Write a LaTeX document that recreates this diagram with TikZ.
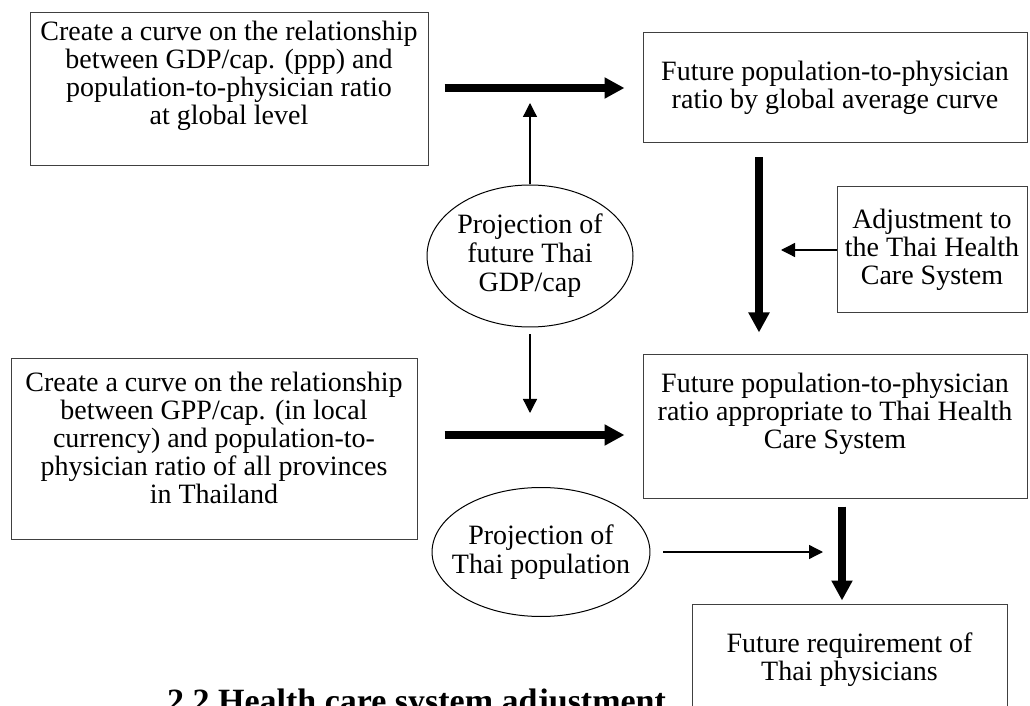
\documentclass[tikz,border=0pt]{standalone}
\usepackage{fontspec}
\setmainfont{Liberation Serif}
\usepackage{tikz}
\usetikzlibrary{shapes.geometric, arrows.meta, positioning}
\newcommand{\pushup}[1]{\rule[-#1]{0pt}{0pt}}
\tikzstyle{box} = [
    rectangle,
    draw=black!75,
    line width=0.5pt,
    fill=white,
    inner xsep=2pt,
    inner ysep=1pt,
    align=center,
    font=\fontsize{14pt}{14pt}\selectfont
]
\tikzstyle{oval} = [
    ellipse,
    draw=black,
    line width=0.5pt,
    inner xsep=-6pt,
    inner ysep=0pt,
    align=center,
    font=\fontsize{14pt}{14.5pt}\selectfont
]
\tikzstyle{bigarrow} = [
    line width=4.25pt,
    -{Triangle[length=10pt, width=10pt]}
]
\tikzstyle{arrow} = [
    line width=0.65pt,
    -{Triangle[length=7pt, width=7pt]}
]

\begin{document}
\begin{tikzpicture}[
    x=0.5pt,
    y=-0.5pt
]

\useasboundingbox (0,0) rectangle (1030,706);
\clip (0,0) rectangle (1030,706);

\node (head) [anchor=base west, font=\bfseries\fontsize{17pt}{20pt}\selectfont] at (160,712)
{2.2 Health care system adjustment};

\node (glob) [box, minimum width=199pt, minimum height=76.5pt] at (229,89.5)
{Create a curve on the relationship\\ between GDP/cap. (ppp) and\\ population-to-physician ratio\\ at global level\pushup{17pt}};

\node (fut1) [box, minimum width=192pt, minimum height=55pt] at (835,88)
{Future population-to-physician\\ ratio by global average curve};

\node (adj) [box, minimum width=95pt, minimum height=63pt] at (932,250)
{Adjustment to\\ the Thai Health\\ Care System};

\node (gdp) [oval, minimum width=103pt, minimum height=71pt] at (530,256)
{Projection of\\ future Thai\\ GDP/cap};

\node (prov) [box, minimum width=203pt, minimum height=90pt] at (214,449)
{Create a curve on the relationship\\ between GPP/cap. (in local\\ currency) and population-to-\\ physician ratio of all provinces\\ in Thailand\pushup{11pt}};

\node (futthai) [box, minimum width=192pt, minimum height=71.5pt] at (835,426.5)
{Future population-to-physician\\ ratio appropriate to Thai Health\\ Care System\pushup{16pt}};

\node (pop) [oval, minimum width=107pt, minimum height=64.5pt] at (541,552)
{Projection of\\ Thai population};

\node (req) [box, minimum width=157.5pt, minimum height=56pt] at (849.5,660)
{Future requirement of\\ Thai physicians};

\coordinate (drop) at ([xshift=-38pt]fut1.south);
\coordinate (feed) at ([yshift=7pt]prov.east);
\coordinate (sink) at ([xshift=3.5pt]futthai.south);

\draw [bigarrow, shorten <=8pt, shorten >=9pt]
(glob.east |- fut1.west) -- (fut1.west);

\draw [arrow, shorten >=7.5pt]
(gdp.north) -- (gdp.north |- fut1.west);

\draw [bigarrow, shorten <=7pt, shorten >=11pt]
(drop) -- (drop |- futthai.north);

\draw [arrow, shorten >=11pt]
(adj.west) -- (adj.west -| drop);

\draw [arrow, shorten <=3.5pt, shorten >=11pt]
(gdp.south) -- (gdp.south |- feed);

\draw [bigarrow, shorten <=13.5pt, shorten >=9pt]
(feed) -- (feed -| futthai.west);

\draw [arrow, shorten <=6.5pt, shorten >=9.5pt]
(pop.east) -- (pop.east -| sink);

\draw [bigarrow, shorten <=4pt, shorten >=1.5pt]
(sink) -- (sink |- req.north);

\end{tikzpicture}
\end{document}
